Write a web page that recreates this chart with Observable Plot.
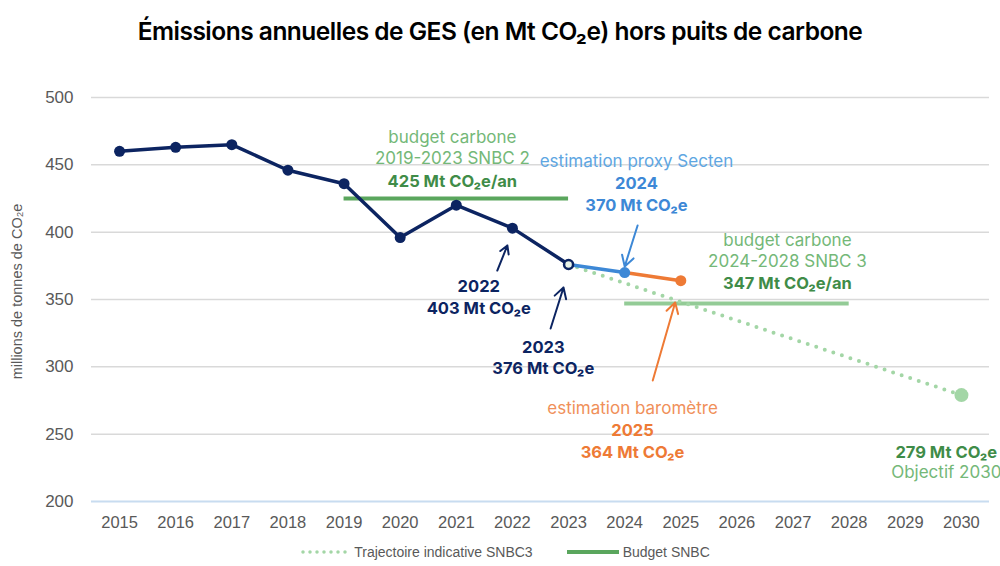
<!DOCTYPE html>
<html><head><meta charset="utf-8">
<script src="https://cdn.jsdelivr.net/npm/d3@7"></script>
<script src="https://cdn.jsdelivr.net/npm/@observablehq/plot@0.6"></script>
<style>
body{margin:0;background:#fff;width:1000px;height:566px;overflow:hidden;font-family:Inter,"Noto Sans",sans-serif}
#title{height:62px;line-height:62px;text-align:center;font-size:24.5px;font-weight:600;color:#000;letter-spacing:-0.5px}
#legend{height:16px;display:flex;justify-content:center;gap:34px;font-family:"Liberation Sans Narrow","Liberation Sans",sans-serif;font-size:14px;color:#595959;align-items:center;margin-top:-6px;padding-left:10px}
#legend span{display:inline-flex;align-items:center;gap:4px}
</style></head>
<body>
<div id="title">Émissions annuelles de GES (en Mt CO₂e) hors puits de carbone</div>
<div id="chart"></div>
<div id="legend"></div>
<script>
// ---- data ----
const years = [2015,2016,2017,2018,2019,2020,2021,2022,2023];
const emissions = [460,463,465,446,436,396,420,403,376];
const proxyYears = [2023,2024];
const proxyValues = [376,370];
const barometreYears = [2024,2025];
const barometreValues = [370,364];
const trajYears = [2023,2030];
const trajValues = [376,279];
const objectifYear = [2030];
const objectifValue = [279];
const budget2Years = [2019,2023];
const budget2Value = 425;
const budget3Years = [2024,2028];
const budget3Value = 347;
const xTicks = [2015,2016,2017,2018,2019,2020,2021,2022,2023,2024,2025,2026,2027,2028,2029,2030];
const yTicks = [200,250,300,350,400,450,500];

// annotations (text, anchor in data units)
const annotText = [
  "budget carbone","2019-2023 SNBC 2","425 Mt CO₂e/an",
  "estimation proxy Secten","2024","370 Mt CO₂e",
  "budget carbone","2024-2028 SNBC 3","347 Mt CO₂e/an",
  "2022","403 Mt CO₂e",
  "2023","376 Mt CO₂e",
  "estimation baromètre","2025","364 Mt CO₂e",
  "279 Mt CO₂e","Objectif 2030"
];
const annotX = [2020.93,2020.93,2020.93, 2024.21,2024.21,2024.21, 2026.9,2026.9,2026.9, 2021.4,2021.4, 2022.55,2022.55, 2024.14,2024.14,2024.14, 2029.73,2029.73];
const annotY = [470.3,454.7,437.6, 452.5,436.1,419.8, 393.8,378.2,361.9, 359.7,343.3, 314.4,298.8, 269.1,252.7,236.4, 236.4,221.5];
const annotKind = ["gl","gl","gb", "bl","bb","bb", "gl","gl","gb", "nb","nb", "nb","nb", "ol","ob","ob", "gb","gl"];

const arrowX1 = [2024.23, 2021.73, 2022.68, 2024.5];
const arrowY1 = [405.0, 371.5, 328.5, 289.9];
const arrowX2 = [2024.0, 2021.91, 2022.91, 2024.9];
const arrowY2 = [374.5, 390.1, 358.9, 347.8];
const arrowKind = ["b","n","n","o"];

// ---- styles ----
const NAVY = "#0c2461", BLUE = "#3d88d6", ORANGE = "#ee7a35";
const GREEN = "#5aa65d", LGREEN = "#93cb96", DOTG = "#a3d6a6";
const textColors = {gl:"#74b878", gb:"#3f8c48", bl:"#5ea6e2", bb:"#3d88d6", nb:"#0c2461", ol:"#f0905a", ob:"#ee7a35"};
const arrowColors = {b:BLUE, n:NAVY, o:ORANGE};
const AXFONT = "'Liberation Sans', Arial, sans-serif";

const hist = years.map((y,i)=>({x:y,y:emissions[i]}));
const proxy = proxyYears.map((y,i)=>({x:y,y:proxyValues[i]}));
const baro = barometreYears.map((y,i)=>({x:y,y:barometreValues[i]}));
const traj = trajYears.map((y,i)=>({x:y,y:trajValues[i]}));
const obj = objectifYear.map((y,i)=>({x:y,y:objectifValue[i]}));
const annots = annotText.map((t,i)=>({t,x:annotX[i],y:annotY[i],k:annotKind[i]}));
const arrows = arrowX1.map((x,i)=>({x1:x,y1:arrowY1[i],x2:arrowX2[i],y2:arrowY2[i],k:arrowKind[i]}));
const light = annots.filter(d=>d.k.endsWith("l"));
const bold = annots.filter(d=>d.k.endsWith("b"));

const chart = Plot.plot({
  width: 1000, height: 488,
  marginLeft: 91, marginRight: 11, marginTop: 35, marginBottom: 49,
  style: {fontFamily: "Inter, 'Noto Sans', sans-serif", background: "#fff", overflow: "visible"},
  x: {domain: [2014.5, 2030.5], label: null},
  y: {domain: [200, 500]},
  marks: [
    Plot.ruleY(yTicks.filter(v=>v>200), {stroke: "#d9d9d9", strokeWidth: 1.5}),
    Plot.ruleY([200], {stroke: "#c8dcf0", strokeWidth: 2}),
    Plot.axisX({ticks: xTicks, tickFormat: d=>String(d), tickSize: 0, tickPadding: 15,
      fontSize: 16.5, fill: "#595959", fontFamily: AXFONT, label: null}),
    Plot.axisY({ticks: yTicks, tickSize: 0, tickPadding: 18, fontSize: 17, fill: "#595959",
      fontFamily: AXFONT, label: null}),
    Plot.text(["millions de tonnes de CO₂e"], {frameAnchor: "left", textAnchor: "middle", dx: -74, dy: -8, rotate: -90,
      fontSize: 14.5, fill: "#595959", fontFamily: AXFONT}),
    Plot.ruleY([budget2Value], {x1: budget2Years[0], x2: budget2Years[1], stroke: GREEN, strokeWidth: 4}),
    Plot.ruleY([budget3Value], {x1: budget3Years[0], x2: budget3Years[1], stroke: LGREEN, strokeWidth: 4}),
    Plot.line(traj, {x: "x", y: "y", stroke: DOTG, strokeWidth: 4, strokeDasharray: "0 9", strokeLinecap: "round"}),
    Plot.dot(obj, {x: "x", y: "y", r: 7, fill: DOTG}),
    Plot.line(proxy, {x: "x", y: "y", stroke: BLUE, strokeWidth: 3.5}),
    Plot.line(baro, {x: "x", y: "y", stroke: ORANGE, strokeWidth: 3.5}),
    Plot.dot(baro.slice(1), {x: "x", y: "y", r: 5.5, fill: ORANGE}),
    Plot.dot(proxy.slice(1), {x: "x", y: "y", r: 5.5, fill: BLUE}),
    Plot.line(hist, {x: "x", y: "y", stroke: NAVY, strokeWidth: 3.5}),
    Plot.dot(hist.slice(0,-1), {x: "x", y: "y", r: 5.5, fill: NAVY}),
    Plot.dot(hist.slice(-1), {x: "x", y: "y", r: 4.5, fill: "#e8f3e8", stroke: NAVY, strokeWidth: 2.5}),
    Plot.arrow(arrows, {x1: "x1", y1: "y1", x2: "x2", y2: "y2", stroke: d=>arrowColors[d.k], strokeWidth: 2, headLength: 9}),
    Plot.text(light, {x: "x", y: "y", text: "t", fill: d=>textColors[d.k], fontSize: 17, fontWeight: 400}),
    Plot.text(bold, {x: "x", y: "y", text: "t", fill: d=>textColors[d.k], fontSize: 16.5, fontWeight: 700})
  ]
});
document.getElementById("chart").appendChild(chart);

// legend
const leg = document.getElementById("legend");
leg.innerHTML =
 `<span><svg width="50" height="8"><line x1="3" y1="4" x2="46" y2="4" stroke="${DOTG}" stroke-width="3.5" stroke-dasharray="0 7" stroke-linecap="round"/></svg>Trajectoire indicative SNBC3</span>` +
 `<span><svg width="52" height="8"><line x1="0" y1="4" x2="52" y2="4" stroke="${GREEN}" stroke-width="4"/></svg>Budget SNBC</span>`;
</script>
</body></html>
